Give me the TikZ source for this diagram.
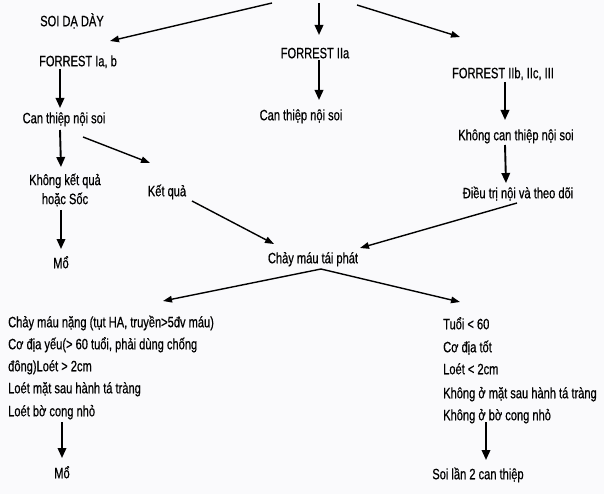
\documentclass[tikz,border=0pt]{standalone}
\usepackage{fontspec}
\setmainfont{Liberation Sans}[FakeStretch=0.74,FakeBold=0.6]
\usetikzlibrary{arrows.meta,calc}
\definecolor{bgc}{RGB}{250,250,252}
\tikzset{
  lbl/.style={inner sep=0pt, text height=10.5pt, text depth=0pt, font=\fontsize{15}{19}\selectfont},
  lblw/.style={lbl, anchor=west},
  varr/.style={line width=1.9pt, -{Triangle[length=10pt,width=8.5pt]}},
  darr/.style={line width=1.4pt, -{Triangle[length=9pt,width=6.5pt]}}
}
\begin{document}
\begin{tikzpicture}[x=1pt,y=-1pt]
\fill[bgc] (0,0) rectangle (604,494);
\useasboundingbox (0,0) rectangle (604,494);
% free ends at the top
\coordinate (topL) at (272,3);
\coordinate (topM) at (319,3);
\coordinate (topR) at (357,5);
% left column
\node[lbl] (soi) at (72,21) {SOI DẠ DÀY};
\node[lbl] (fa) at (78,61) {FORREST Ia, b};
\node[lbl] (ca) at (64,118) {Can thiệp nội soi};
\node[inner sep=0pt, align=center, font=\fontsize{15}{19}\selectfont] (kkq) at (65,190) {Không kết quả\\hoặc Sốc};
\node[lbl] (moA) at (61,263) {Mổ};
\node[lbl] (kq) at (167,191) {Kết quả};
\node[lbl] (cm) at (313,258) {Chảy máu tái phát};
% middle column
\node[lbl] (fb) at (315,53) {FORREST IIa};
\node[lbl] (cb) at (301,115) {Can thiệp nội soi};
% right column
\node[lbl] (fc) at (503,73) {FORREST IIb, IIc, III};
\node[lbl] (kc) at (516,135) {Không can thiệp nội soi};
\node[lbl] (dt) at (518,193) {Điều trị nội và theo dõi};
% lower left block
\node[lblw] (L1) at (8,322) {Chảy máu nặng (tụt HA, truyền>5đv máu)};
\node[lblw] (L2) at (8,344) {Cơ địa yếu(> 60 tuổi, phải dùng chống};
\node[lblw] (L3) at (8,366) {đông)Loét > 2cm};
\node[lblw] (L4) at (8,388) {Loét mặt sau hành tá tràng};
\node[lblw] (L5) at (8,411) {Loét bờ cong nhỏ};
\node[lbl] (moB) at (62,473) {Mổ};
% lower right block
\node[lblw] (R1) at (443,324) {Tuổi < 60};
\node[lblw] (R2) at (443,347) {Cơ địa tốt};
\node[lblw] (R3) at (443,369) {Loét < 2cm};
\node[lblw] (R4) at (443,393) {Không ở mặt sau hành tá tràng};
\node[lblw] (R5) at (443,415) {Không ở bờ cong nhỏ};
\node[lbl] (soi2) at (478,474) {Soi lần 2 can thiệp};
\coordinate (apex) at ($(cm)+(8,11)$);
% connectors
\draw[darr] (topL) -- ($(fa)+(32,-20)$);
\draw[varr] ($(fa)+(-18,8)$) -- ($(ca)+(-4,-10)$);
\draw[varr] ($(ca)+(-4,12)$) -- ($(kkq)+(-4,-23)$);
\draw[darr] ($(ca)+(19,19)$) -- ($(kq)+(-17,-28)$);
\draw[varr] ($(kkq)+(-4,20)$) -- ($(moA)+(0,-14)$);
\draw[darr] ($(kq)+(25,10)$) -- ($(cm)+(-39,-14)$);
\draw[varr] (topM) -- ($(fb)+(4,-18)$);
\draw[varr] ($(fb)+(4,7)$) -- ($(cb)+(18,-15)$);
\draw[darr] (topR) -- ($(fc)+(-43,-36)$);
\draw[varr] ($(fc)+(2,9)$) -- ($(kc)+(-11,-15)$);
\draw[varr] ($(kc)+(-11,10)$) -- ($(dt)+(-12,-10)$);
\draw[darr] ($(dt)+(-1,10)$) -- ($(cm)+(47,-10)$);
\draw[darr] (apex) -- ($(L1.west)+(155,-21)$);
\draw[darr] (apex) -- ($(R1.west)+(17,-22)$);
\draw[varr] ($(L5.west)+(54,11)$) -- ($(moB)+(0,-15)$);
\draw[varr] ($(R5.west)+(43,7)$) -- ($(soi2)+(8,-14)$);
\end{tikzpicture}
\end{document}
